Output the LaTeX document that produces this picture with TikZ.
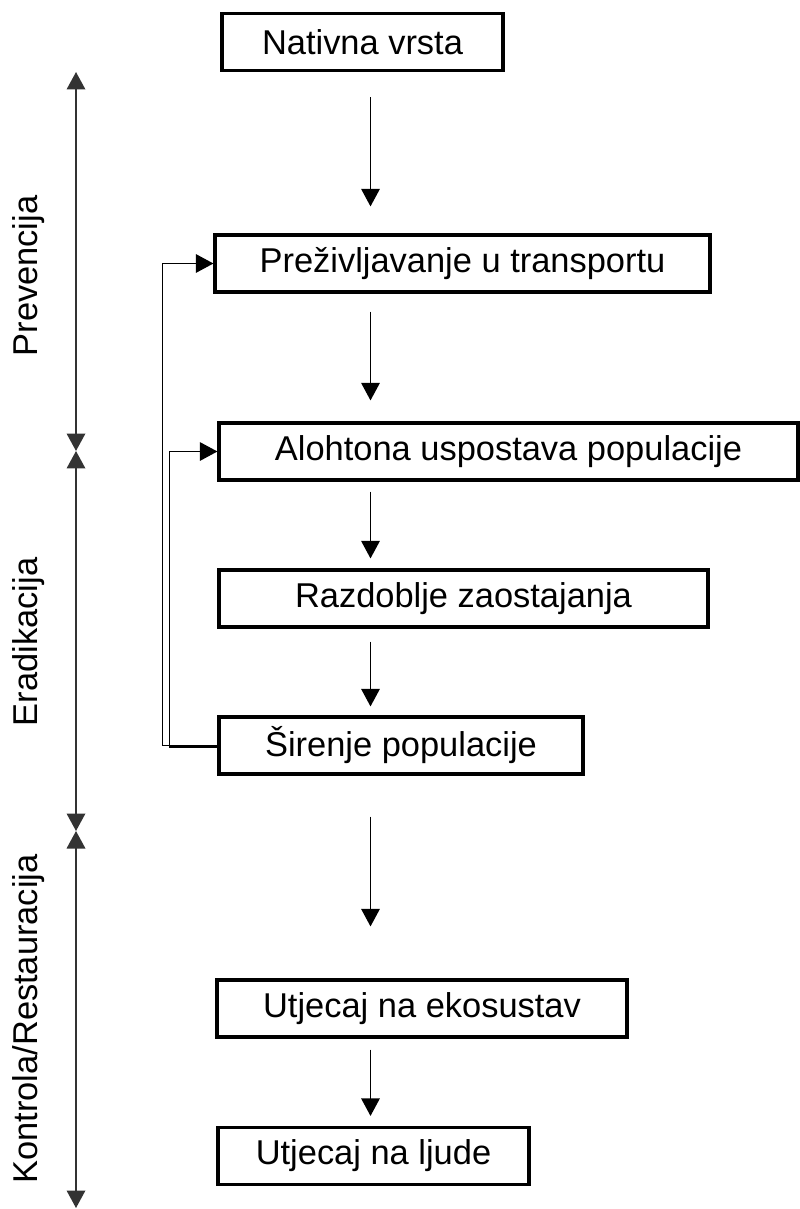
\documentclass[tikz,border=0pt]{standalone}
\usepackage{fontspec}
\setmainfont{Liberation Sans}
\usetikzlibrary{arrows.meta}
\begin{document}
\begin{tikzpicture}[x=0.02cm, y=-0.02cm, >={Triangle[width=0.37cm,length=0.35cm]},
  box/.style={draw, line width=1.8pt, inner sep=0pt, minimum height=1.14cm, font=\fontsize{19.6}{23}\selectfont},
  flow/.style={->, line width=0.8pt},
  phase/.style={rotate=90, font=\fontsize{19.6}{23}\selectfont},
  axisline/.style={<->, line width=1.1pt, draw=black!80}]
\useasboundingbox (0,0) rectangle (799,1209);
% stages
\foreach \n/\x/\y/\w/\t in {nat/362.5/42/281/Nativna vrsta, prez/462.5/263.5/495/Preživljavanje u transportu,
  alo/508.5/451.5/579/Alohtona uspostava populacije, raz/463.5/598.5/489/Razdoblje zaostajanja,
  sir/401/745.5/364/Širenje populacije, eko/422/1008.5/410/Utjecaj na ekosustav, lju/373.5/1156/311/Utjecaj na ljude}
  \node[box, minimum width=\w*0.02cm] (\n) at (\x,\y) {\t};
\coordinate (ax) at (370.5,0);
\foreach \a/\b/\s/\e in {nat/prez/25/27, prez/alo/18/21, alo/raz/10/10, raz/sir/13/9, sir/eko/41/52, eko/lju/11/10}
  \draw[flow, shorten <=\s*0.02cm, shorten >=\e*0.02cm] (\a.south -| ax) -- (\b.north -| ax);
% feedback
\draw[flow] (sir.west) -- ++(-55,0) |- (prez.west);
\draw[flow] (sir.west) ++(0,1.5) -- ++(-48,0) |- (alo.west);
% phases
\coordinate (p0) at (76,72);
\coordinate (p1) at (76,451);
\coordinate (p2) at (76,831);
\coordinate (p3) at (76,1208);
\draw[axisline] (p0) -- (p1);
\draw[axisline] (p1) -- (p2);
\draw[axisline] (p2) -- (p3);
\node[phase] (prev) at (28.5,276) {Prevencija};
\node[phase] (erad) at (28.5,642) {Eradikacija};
\node[phase] (kont) at (28.5,1019) {Kontrola/Restauracija};
\end{tikzpicture}
\end{document}
